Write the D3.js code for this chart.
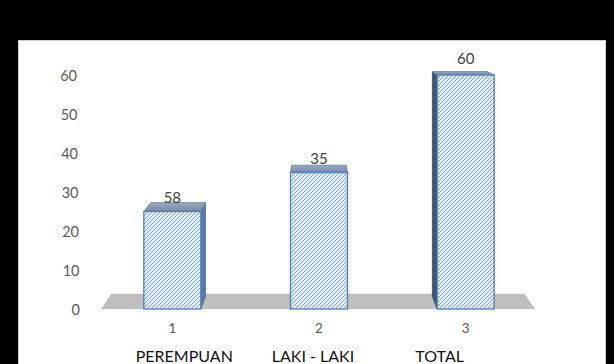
<!DOCTYPE html>
<html><head><meta charset="utf-8">
<script src="https://cdn.jsdelivr.net/npm/d3@7"></script>
<style>html,body{margin:0;padding:0;background:#000;}svg{display:block;}</style>
</head><body>
<svg id="chart" width="614" height="364"></svg>
<script>
const categories = ["1", "2", "3"];
const categoryNames = ["PEREMPUAN", "LAKI - LAKI", "TOTAL"];
const values = [25, 35, 60];
const dataLabels = ["58", "35", "60"];
const yTicks = [0, 10, 20, 30, 40, 50, 60];

const svg = d3.select("#chart");
const W = 614, H = 364;
svg.append("rect").attr("width", W).attr("height", H).attr("fill", "#000");
svg.append("rect").attr("x", 18.5).attr("y", 40.5).attr("width", 587).attr("height", 330)
  .attr("fill", "#fff").attr("stroke", "#d0d0d0");

const x = d3.scalePoint().domain(categories).range([99, 539]).padding(0.5);
const y = d3.scaleLinear().domain([0, 60]).range([309, 75]);
const barW = 57;
const VX = 318, VY = -10, S = 0.04;
const P = (px, py, d) => [px + (VX - px) * d * S, py + (VY - py) * d * S];

const defs = svg.append("defs");
const pat = defs.append("pattern").attr("id", "hatch").attr("patternUnits", "userSpaceOnUse")
  .attr("width", 4).attr("height", 4);
pat.append("rect").attr("width", 4).attr("height", 4).attr("fill", "#e3ecf9");
pat.append("path").attr("d", "M-1,1 l2,-2 M0,4 l4,-4 M3,5 l2,-2")
  .attr("stroke", "#729ed6").attr("stroke-width", 0.9);
const topGrad = defs.append("linearGradient").attr("id", "topg").attr("x1", 0).attr("y1", 0).attr("x2", 0).attr("y2", 1);
topGrad.append("stop").attr("offset", 0).attr("stop-color", "#9aaac0");
topGrad.append("stop").attr("offset", 1).attr("stop-color", "#7388a4");

// floor
const fx0 = 101, fx1 = 535, fy = y(0);
const floorPts = [[fx0, fy], [fx1, fy], P(fx1, fy, 1.2), P(fx0, fy, 1.2)];
svg.append("polygon").attr("points", floorPts.map(p => p.join(",")).join(" "))
  .attr("fill", "#bfbfbf");

// y axis labels
svg.append("g").selectAll("text").data(yTicks).join("text")
  .attr("x", d => 80 - 3 * d / 60).attr("y", d => y(d))
  .attr("text-anchor", "end").attr("dominant-baseline", "central")
  .attr("font-family", "Lato, 'Open Sans', sans-serif").attr("font-size", 14.5)
  .attr("fill", "#595959").text(d => d);

// bars
const g = svg.append("g");
categories.forEach((c, i) => {
  const cx = x(c), x0 = cx - barW / 2, x1 = cx + barW / 2;
  const yt = y(values[i]), yb = y(0);
  const poly = pts => pts.map(p => p.join(",")).join(" ");
  if (cx < VX - 5) {
    g.append("polygon").attr("points", poly([[x1, yt], [x1, yb], P(x1, yb, 1), P(x1, yt, 1)]))
      .attr("fill", "#5a7aa6").attr("stroke", "#4a6f9e").attr("stroke-width", 0.8);
  } else if (cx > VX + 5) {
    g.append("polygon").attr("points", poly([[x0, yt], [x0, yb], P(x0, yb, 1), P(x0, yt, 1)]))
      .attr("fill", "#3d5676").attr("stroke", "#35506f").attr("stroke-width", 0.8);
  }
  g.append("polygon").attr("points", poly([[x0, yt], [x1, yt], P(x1, yt, 1), P(x0, yt, 1)]))
    .attr("fill", "url(#topg)").attr("stroke", "#5e7ea8").attr("stroke-width", 0.8);
  g.append("rect").attr("x", x0).attr("y", yt).attr("width", barW).attr("height", yb - yt)
    .attr("fill", "url(#hatch)").attr("stroke", "#4f7fc0").attr("stroke-width", 1.3);
  g.append("text").attr("x", cx).attr("y", yt - 15 - (values[i] > 50 ? 2 : 0))
    .attr("text-anchor", "middle").attr("dominant-baseline", "central")
    .attr("font-family", "Lato, 'Open Sans', sans-serif").attr("font-size", 15)
    .attr("fill", "#404040").text(dataLabels[i]);
});

// category labels
const nameShift = [12, -6, -26];
const cl = svg.append("g").attr("font-family", "Lato, 'Open Sans', sans-serif");
categories.forEach((c, i) => {
  cl.append("text").attr("x", x(c)).attr("y", 328).attr("text-anchor", "middle")
    .attr("dominant-baseline", "central").attr("font-size", 13.5).attr("fill", "#595959").text(c);
  cl.append("text").attr("x", x(c) + nameShift[i]).attr("y", 355).attr("text-anchor", "middle")
    .attr("dominant-baseline", "central").attr("font-size", 16).attr("fill", "#111").text(categoryNames[i]);
});
</script>
</body></html>
